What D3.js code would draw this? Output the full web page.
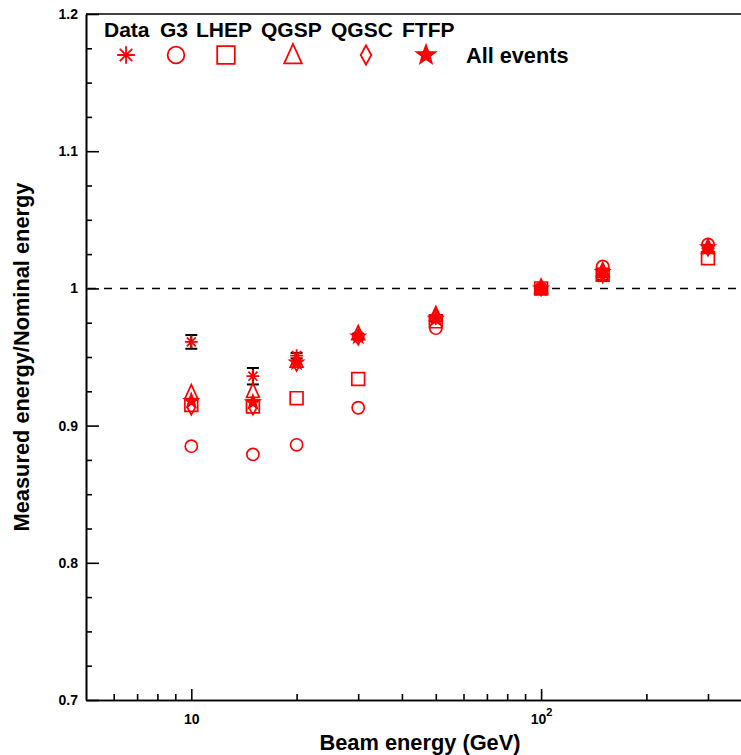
<!DOCTYPE html>
<html>
<head>
<meta charset="utf-8">
<script src="https://cdn.jsdelivr.net/npm/d3@7"></script>
<style>
body { margin: 0; background: #fff; }
text { font-family: "Liberation Sans", Arial, sans-serif; font-weight: bold; }
</style>
</head>
<body>
<script>
// beam energies (GeV) and ratio Measured/Nominal per sample
var energies = [10, 15, 20, 30, 50, 100, 150, 300];
var dataVals = [0.961, 0.936, 0.951, 0.965, 0.978, 1.000, 1.008, 1.029];
var dataErr  = [0.005, 0.006, 0.002, 0.002, 0.002, 0.001, 0.002, 0.002];
var g3Vals   = [0.885, 0.879, 0.886, 0.913, 0.971, 1.000, 1.016, 1.032];
var lhepVals = [0.915, 0.914, 0.920, 0.934, 0.976, 1.000, 1.010, 1.022];
var qgspVals = [0.924, 0.925, 0.947, 0.967, 0.981, 1.001, 1.013, 1.030];
var qgscVals = [0.913, 0.913, 0.945, 0.964, 0.980, 1.000, 1.011, 1.029];
var ftfpVals = [0.918, 0.917, 0.946, 0.965, 0.978, 1.000, 1.012, 1.030];
var legendNames = ['Data', 'G3', 'LHEP', 'QGSP', 'QGSC', 'FTFP'];
var yTicks = [0.7, 0.8, 0.9, 1, 1.1, 1.2];
var yMinor = [0.725, 0.75, 0.775, 0.825, 0.85, 0.875, 0.925, 0.95, 0.975,
              1.025, 1.05, 1.075, 1.125, 1.15, 1.175];
var xTicks = [10, 100];
var xMinor = [6, 7, 8, 9, 20, 30, 40, 50, 60, 70, 80, 90, 200, 300];

(function() {

    var W = 741, H = 755;
    var mLeft = 86, mRight = 741, mTop = 14, mBottom = 700;

    var svg = d3.select('body').append('svg')
        .attr('width', W)
        .attr('height', H);

    var x = d3.scaleLog().domain([5, 372.8]).range([mLeft, mRight]);
    var y = d3.scaleLinear().domain([0.7, 1.2]).range([mBottom, mTop]);

    // marker shapes (ROOT style)
    var red = '#ff0000';
    function asterisk(s) {
        var d = 0.7071 * s;
        return 'M0,' + (-s) + 'V' + s + 'M' + (-s) + ',0H' + s +
            'M' + (-d) + ',' + (-d) + 'L' + d + ',' + d +
            'M' + (-d) + ',' + d + 'L' + d + ',' + (-d);
    }
    function circle(s) {
        var r = s * 0.95;
        return 'M' + r + ',0A' + r + ',' + r + ' 0 1,1 ' + (-r) + ',0A' + r + ',' + r + ' 0 1,1 ' + r + ',0Z';
    }
    function square(s) {
        return 'M' + (-s) + ',' + (-s) + 'H' + s + 'V' + s + 'H' + (-s) + 'Z';
    }
    function triangle(s) {
        return 'M0,' + (-s * 1.25) + 'L' + s + ',' + s * 0.95 + 'H' + (-s) + 'Z';
    }
    function diamond(s) {
        return 'M0,' + (-s * 1.1) + 'L' + s * 0.6 + ',0L0,' + s * 1.1 + 'L' + (-s * 0.6) + ',0Z';
    }
    function star(s) {
        var pts = [];
        for (var i = 0; i < 10; i++) {
            var r = i % 2 ? s * 0.45 : s * 1.1;
            var a = Math.PI * i / 5 - Math.PI / 2;
            pts.push((r * Math.cos(a)).toFixed(2) + ',' + (r * Math.sin(a)).toFixed(2));
        }
        return 'M' + pts.join('L') + 'Z';
    }

    var series = [
        { vals: g3Vals, shape: circle, fill: 'none' },
        { vals: lhepVals, shape: square, fill: 'none' },
        { vals: qgspVals, shape: triangle, fill: 'none' },
        { vals: qgscVals, shape: diamond, fill: 'none' },
        { vals: ftfpVals, shape: star, fill: red },
        { vals: dataVals, shape: asterisk, fill: 'none' }
    ];

    // axes
    var yMajor = d3.axisLeft(y).tickValues(yTicks).tickSizeInner(-13).tickSizeOuter(0)
        .tickPadding(8).tickFormat(d3.format('~g'));
    var yMin = d3.axisLeft(y).tickValues(yMinor).tickSizeInner(-6).tickSizeOuter(0).tickFormat('');
    var xMajor = d3.axisBottom(x).tickValues(xTicks).tickSizeInner(-11).tickSizeOuter(0)
        .tickPadding(14).tickFormat(d3.format('d'));
    var xMin = d3.axisBottom(x).tickValues(xMinor).tickSizeInner(-6).tickSizeOuter(0).tickFormat('');

    function styleAxis(g) {
        g.selectAll('path, line').attr('stroke', '#000').attr('stroke-width', 1.6);
        g.selectAll('text').attr('fill', '#000').attr('font-size', 14);
    }

    svg.append('g').attr('transform', 'translate(' + mLeft + ',0)').call(yMin).call(styleAxis);
    svg.append('g').attr('transform', 'translate(' + mLeft + ',0)').call(yMajor).call(styleAxis);
    svg.append('g').attr('transform', 'translate(0,' + mBottom + ')').call(xMin).call(styleAxis);
    var xg = svg.append('g').attr('transform', 'translate(0,' + mBottom + ')').call(xMajor).call(styleAxis);

    // 10^2 label with superscript
    xg.selectAll('.tick text').filter(function(d) { return d === 100; })
        .text(null)
        .call(function(t) {
            t.append('tspan').text('10');
            t.append('tspan').attr('dy', -8).attr('font-size', 11).text('2');
        });

    // frame top line
    svg.append('line')
        .attr('x1', mLeft).attr('x2', mRight)
        .attr('y1', mTop).attr('y2', mTop)
        .attr('stroke', '#000').attr('stroke-width', 1.6);

    // reference line at 1
    svg.append('line')
        .attr('x1', mLeft + 2).attr('x2', mRight)
        .attr('y1', y(1)).attr('y2', y(1))
        .attr('stroke', '#000').attr('stroke-width', 1.5)
        .attr('stroke-dasharray', '8,8');

    // axis titles
    svg.append('text')
        .attr('x', 420).attr('y', 750)
        .attr('text-anchor', 'middle')
        .attr('font-size', 21.8)
        .text('Beam energy (GeV)');
    svg.append('text')
        .attr('transform', 'translate(29,357) rotate(-90)')
        .attr('text-anchor', 'middle')
        .attr('font-size', 21.8)
        .text('Measured energy/Nominal energy');

    // data error bars
    var eb = svg.append('g').attr('stroke', '#000').attr('stroke-width', 2);
    energies.forEach(function(e, i) {
        var cx = x(e), y1 = y(dataVals[i] + dataErr[i]), y2 = y(dataVals[i] - dataErr[i]);
        eb.append('line').attr('x1', cx).attr('x2', cx).attr('y1', y1).attr('y2', y2);
        eb.append('line').attr('x1', cx - 6).attr('x2', cx + 6).attr('y1', y1).attr('y2', y1);
        eb.append('line').attr('x1', cx - 6).attr('x2', cx + 6).attr('y1', y2).attr('y2', y2);
    });

    // markers
    series.forEach(function(s) {
        svg.append('g').selectAll('path')
            .data(s.vals)
            .enter()
                .append('path')
                .attr('d', s.shape(6.4))
                .attr('transform', function(d, i) {
                    return 'translate(' + x(energies[i]) + ',' + y(d) + ')';
                })
                .attr('fill', s.fill)
                .attr('stroke', red)
                .attr('stroke-width', 1.7);
    });

    // legend
    var legendTextX = [104, 160, 196, 261, 331, 402];
    var legendSymX = [126, 176, 226, 293, 366, 426];
    var legendShapes = [asterisk, circle, square, triangle, diamond, star];
    svg.selectAll('text.leg')
        .data(legendNames)
        .enter()
            .append('text')
            .attr('class', 'leg')
            .attr('x', function(d, i) { return legendTextX[i]; })
            .attr('y', 37)
            .attr('font-size', 21)
            .text(function(d) { return d; });
    svg.selectAll('path.leg')
        .data(legendShapes)
        .enter()
            .append('path')
            .attr('class', 'leg')
            .attr('d', function(f) { return f(8.8); })
            .attr('transform', function(f, i) { return 'translate(' + legendSymX[i] + ',55)'; })
            .attr('fill', function(f) { return f === star ? red : 'none'; })
            .attr('stroke', red)
            .attr('stroke-width', 1.8);
    svg.append('text')
        .attr('x', 466).attr('y', 63)
        .attr('font-size', 21.7)
        .text('All events');

}());
</script>
</body>
</html>
